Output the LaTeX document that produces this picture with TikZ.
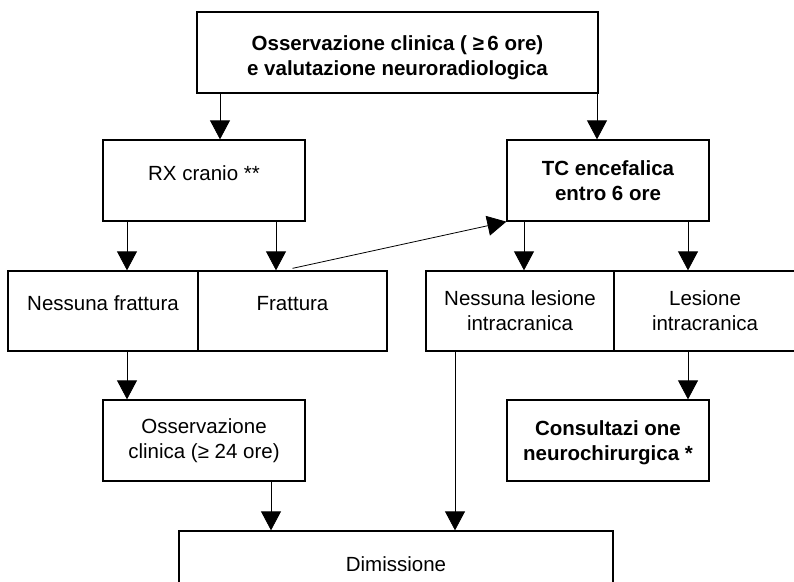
\documentclass[tikz,border=0pt]{standalone}
\usepackage{fontspec}
\setmainfont{Liberation Sans}
\usetikzlibrary{arrows.meta}

\begin{document}
\begin{tikzpicture}[x=1pt,y=-1pt,
    box/.style={draw,line width=1.3pt,inner sep=0pt,align=center,
      minimum height=81pt,font=\fontsize{20.5}{25}\selectfont},
    bbox/.style={box,font=\fontsize{20.5}{25}\selectfont\bfseries},
    topline/.style={text depth=15pt},
    arr/.style={line width=0.8pt,-{Triangle[length=19pt,width=20pt]}}]
  \useasboundingbox (0,0) rectangle (794,581);
  % boxes
  \node[bbox,minimum width=401pt] (obs) at (397.5,52.5)
    {\rule{0pt}{25pt}Osservazione clinica ( ≥\,6 ore)\\e valutazione neuroradiologica};
  \node[box,topline,minimum width=202pt] (rx) at (204,180.5) {RX cranio **};
  \node[bbox,minimum width=202pt] (tc) at (608,180.5) {TC encefalica\\entro 6 ore};
  \node[box,topline,minimum width=190pt,minimum height=80pt] (nofrat) at (103,311) {Nessuna frattura};
  \node[box,topline,minimum width=189pt,minimum height=80pt] (frat) at (292.5,311) {Frattura};
  \node[box,minimum width=188pt,minimum height=80pt] (noles) at (520,311) {Nessuna lesione\\intracranica};
  \node[box,minimum width=182pt,minimum height=80pt] (les) at (705,311) {Lesione\\intracranica};
  \node[box,minimum width=202pt] (osscl) at (204,440.5) {Osservazione\\clinica (≥ 24 ore)};
  \node[bbox,minimum width=202pt] (cons) at (608,440.5) {\rule{0pt}{20pt}Consultazi one\\neurochirurgica *};
  \node[box,topline,minimum width=434pt] (dim) at (396,571.5) {Dimissione};
  % x positions of the connectors
  \coordinate (xa) at (220,0);
  \coordinate (xb) at (597,0);
  \coordinate (xc) at (127,0);
  \coordinate (xd) at (276,0);
  \coordinate (xe) at (524,0);
  \coordinate (xf) at (688,0);
  \coordinate (xg) at (271,0);
  \coordinate (xh) at (455,0);
  % connectors
  \draw[arr] (obs.south -| xa) -- (rx.north -| xa);
  \draw[arr] (obs.south -| xb) -- (tc.north -| xb);
  \draw[arr] (rx.south -| xc) -- (nofrat.north -| xc);
  \draw[arr] (rx.south -| xd) -- (frat.north -| xd);
  \draw[arr] ([yshift=2pt]frat.north) -- (tc.south west);
  \draw[arr] (tc.south -| xe) -- (noles.north -| xe);
  \draw[arr] (tc.south -| xf) -- (les.north -| xf);
  \draw[arr] (nofrat.south -| xc) -- (osscl.north -| xc);
  \draw[arr] (les.south -| xf) -- (cons.north -| xf);
  \draw[arr] (osscl.south -| xg) -- (dim.north -| xg);
  \draw[arr] (noles.south -| xh) -- (dim.north -| xh);
\end{tikzpicture}
\end{document}
